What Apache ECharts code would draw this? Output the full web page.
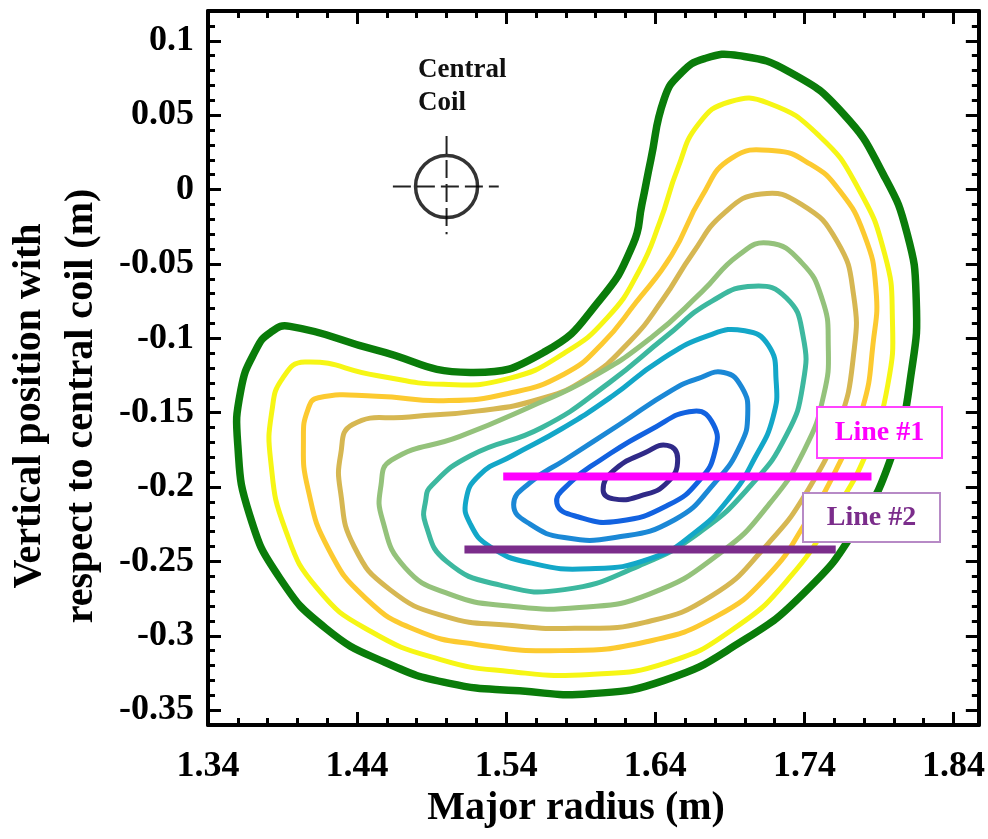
<!DOCTYPE html>
<html>
<head>
<meta charset="utf-8">
<script src="https://cdn.jsdelivr.net/npm/echarts@6/dist/echarts.min.js"></script>
<style>
  html, body { margin: 0; padding: 0; background: #fff; }
  #chart { width: 988px; height: 839px; }
</style>
</head>
<body>
<div id="chart"></div>
<script>
// Axis ranges and labelled ticks
const xMin = 1.34, xMax = 1.857;
const yMin = -0.36, yMax = 0.12;
const xTicks = [1.34, 1.44, 1.54, 1.64, 1.74, 1.84];
const yTicks = [-0.35, -0.3, -0.25, -0.2, -0.15, -0.1, -0.05, 0, 0.05, 0.1];

// Flux-surface contours, outermost first: [R (m), Z (m)]
const contour1 = [[1.395,-0.092],[1.453,-0.108],[1.516,-0.123],[1.566,-0.109],[1.603,-0.074],[1.625,-0.037],[1.631,-0.010],[1.637,0.020],[1.646,0.061],[1.657,0.078],[1.673,0.088],[1.696,0.090],[1.730,0.079],[1.766,0.051],[1.793,0.010],[1.809,-0.030],[1.815,-0.074],[1.812,-0.121],[1.800,-0.175],[1.775,-0.227],[1.740,-0.271],[1.696,-0.305],[1.646,-0.330],[1.596,-0.339],[1.549,-0.337],[1.502,-0.332],[1.459,-0.318],[1.419,-0.295],[1.388,-0.261],[1.368,-0.219],[1.360,-0.172],[1.362,-0.135],[1.372,-0.108],[1.382,-0.096]];
const contour2 = [[1.405,-0.116],[1.453,-0.125],[1.498,-0.131],[1.542,-0.127],[1.579,-0.110],[1.608,-0.086],[1.629,-0.055],[1.643,-0.022],[1.655,0.014],[1.669,0.044],[1.690,0.059],[1.716,0.058],[1.750,0.036],[1.776,0.001],[1.794,-0.044],[1.799,-0.086],[1.796,-0.131],[1.783,-0.174],[1.760,-0.217],[1.730,-0.261],[1.693,-0.295],[1.648,-0.318],[1.596,-0.326],[1.542,-0.324],[1.496,-0.316],[1.449,-0.297],[1.414,-0.269],[1.392,-0.229],[1.382,-0.182],[1.383,-0.148],[1.390,-0.127]];
const contour3 = [[1.414,-0.140],[1.453,-0.139],[1.498,-0.142],[1.542,-0.137],[1.579,-0.124],[1.604,-0.104],[1.627,-0.076],[1.651,-0.044],[1.671,-0.005],[1.691,0.021],[1.720,0.026],[1.744,0.017],[1.763,0.000],[1.780,-0.030],[1.788,-0.067],[1.786,-0.104],[1.779,-0.147],[1.763,-0.185],[1.742,-0.222],[1.716,-0.259],[1.681,-0.287],[1.634,-0.304],[1.576,-0.310],[1.521,-0.306],[1.479,-0.296],[1.446,-0.275],[1.421,-0.242],[1.407,-0.201],[1.404,-0.168],[1.407,-0.148]];
const contour4 = [[1.437,-0.158],[1.475,-0.153],[1.520,-0.149],[1.562,-0.141],[1.594,-0.127],[1.623,-0.102],[1.645,-0.074],[1.665,-0.043],[1.686,-0.016],[1.711,-0.003],[1.738,-0.010],[1.762,-0.035],[1.773,-0.071],[1.773,-0.111],[1.763,-0.158],[1.743,-0.201],[1.713,-0.241],[1.678,-0.273],[1.633,-0.291],[1.586,-0.295],[1.542,-0.293],[1.499,-0.287],[1.462,-0.269],[1.438,-0.240],[1.429,-0.204],[1.429,-0.178]];
const contour5 = [[1.463,-0.182],[1.509,-0.166],[1.554,-0.147],[1.598,-0.126],[1.638,-0.099],[1.671,-0.069],[1.696,-0.044],[1.716,-0.036],[1.738,-0.049],[1.752,-0.074],[1.756,-0.104],[1.753,-0.138],[1.740,-0.175],[1.716,-0.212],[1.684,-0.244],[1.636,-0.272],[1.589,-0.281],[1.542,-0.280],[1.502,-0.272],[1.472,-0.254],[1.457,-0.222],[1.456,-0.199]];
const contour6 = [[1.490,-0.199],[1.516,-0.179],[1.564,-0.160],[1.609,-0.130],[1.647,-0.099],[1.678,-0.075],[1.706,-0.065],[1.728,-0.073],[1.739,-0.098],[1.739,-0.131],[1.728,-0.165],[1.704,-0.199],[1.669,-0.231],[1.629,-0.253],[1.579,-0.269],[1.536,-0.266],[1.500,-0.250],[1.486,-0.225],[1.486,-0.209]];
const contour7 = [[1.513,-0.209],[1.522,-0.192],[1.544,-0.179],[1.577,-0.161],[1.611,-0.139],[1.643,-0.115],[1.676,-0.098],[1.700,-0.095],[1.716,-0.105],[1.721,-0.128],[1.719,-0.153],[1.707,-0.180],[1.690,-0.207],[1.666,-0.231],[1.637,-0.248],[1.596,-0.255],[1.556,-0.251],[1.529,-0.240],[1.516,-0.225]];
const contour8 = [[1.545,-0.212],[1.556,-0.197],[1.579,-0.182],[1.616,-0.158],[1.651,-0.135],[1.669,-0.127],[1.686,-0.123],[1.698,-0.133],[1.702,-0.151],[1.697,-0.172],[1.680,-0.197],[1.653,-0.222],[1.613,-0.234],[1.579,-0.234],[1.556,-0.225]];
const contour9 = [[1.574,-0.211],[1.583,-0.197],[1.603,-0.182],[1.636,-0.162],[1.666,-0.149],[1.679,-0.158],[1.680,-0.176],[1.670,-0.195],[1.649,-0.212],[1.615,-0.223],[1.588,-0.220]];
const contour10 = [[1.605,-0.202],[1.612,-0.189],[1.633,-0.177],[1.648,-0.172],[1.655,-0.181],[1.648,-0.197],[1.630,-0.206],[1.612,-0.208]];

const contours = [contour1, contour2, contour3, contour4, contour5, contour6, contour7, contour8, contour9, contour10];
const contourColors = ['#0a7c0a', '#f6f615', '#fcca30', '#d6b752', '#94c27b', '#3db89f', '#13a7c8', '#1b88d6', '#1262e0', '#302a88'];
const contourWidths = [7.5, 5, 5, 5, 5, 5, 5, 5, 5, 5];

// Measurement chords
const line1R = [1.538, 1.785], line1Z = -0.193;
const line2R = [1.512, 1.761], line2Z = -0.242;

// Central coil position and its cross-hair extents
const coilR = 1.50, coilZ = 0.002;
const coilCrossR = [1.464, 1.535];
const coilCrossZ = [0.036, -0.030];

const FONT = '"Liberation Serif", "Times New Roman", serif';

function majorX(position, showLabel) {
  return {
    type: 'value', position, min: xMin, max: xMax,
    axisLine: { show: true, onZero: false, lineStyle: { color: '#000', width: 4 } },
    axisTick: { show: true, inside: true, length: 13, customValues: xTicks, lineStyle: { color: '#000', width: 3 } },
    axisLabel: { show: showLabel, customValues: xTicks, margin: 24, color: '#000', fontFamily: FONT, fontWeight: 'bold', fontSize: 36 },
    splitLine: { show: false }
  };
}
function minorX(position) {
  return {
    type: 'value', position, min: xMin, max: xMax, interval: 0.02,
    axisLine: { show: false, onZero: false },
    axisTick: { show: true, inside: true, length: 7, lineStyle: { color: '#000', width: 3 } },
    axisLabel: { show: false }, splitLine: { show: false }
  };
}
function majorY(position, showLabel) {
  return {
    type: 'value', position, min: yMin, max: yMax,
    axisLine: { show: true, onZero: false, lineStyle: { color: '#000', width: 4 } },
    axisTick: { show: true, inside: true, length: 13, customValues: yTicks, lineStyle: { color: '#000', width: 3 } },
    axisLabel: { show: showLabel, customValues: yTicks, margin: 14, color: '#000', fontFamily: FONT, fontWeight: 'bold', fontSize: 36 },
    splitLine: { show: false }
  };
}
function minorY(position) {
  return {
    type: 'value', position, min: yMin, max: yMax, interval: 0.01,
    axisLine: { show: false, onZero: false },
    axisTick: { show: true, inside: true, length: 7, lineStyle: { color: '#000', width: 3 } },
    axisLabel: { show: false }, splitLine: { show: false }
  };
}

// Each contour is a closed, smoothed outline through its points
const series = contours.map((pts, i) => ({
  type: 'custom',
  coordinateSystem: 'cartesian2d',
  silent: true,
  z: 2,
  data: pts,
  encode: { x: 0, y: 1 },
  renderItem: (params, api) => {
    if (params.dataIndex !== 0) return null;
    return {
      type: 'polygon',
      shape: { points: pts.map(p => api.coord(p)), smooth: 0.5 },
      style: { fill: 'none', stroke: contourColors[i], lineWidth: contourWidths[i], lineJoin: 'round' }
    };
  }
}));

series.push(
  {
    type: 'line', silent: true, symbol: 'none', z: 4,
    data: line1R.map(r => [r, line1Z]),
    lineStyle: { color: '#ff00ff', width: 8 }
  },
  {
    type: 'line', silent: true, symbol: 'none', z: 4,
    data: line2R.map(r => [r, line2Z]),
    lineStyle: { color: '#7b2d8b', width: 8 }
  },
  {
    type: 'line', silent: true, symbol: 'none', z: 3,
    data: coilCrossR.map(r => [r, coilZ]),
    lineStyle: { color: '#222', width: 2, type: [18, 6] }
  },
  {
    type: 'line', silent: true, symbol: 'none', z: 3,
    data: coilCrossZ.map(z => [coilR, z]),
    lineStyle: { color: '#222', width: 2, type: [18, 6] }
  },
  {
    type: 'scatter', silent: true, z: 3,
    data: [[coilR, coilZ]],
    symbol: 'circle', symbolSize: 62,
    itemStyle: { color: 'rgba(0,0,0,0)', borderColor: '#000', borderWidth: 3.5 }
  }
);

const chart = echarts.init(document.getElementById('chart'), null, { renderer: 'canvas' });
chart.setOption({
  animation: false,
  backgroundColor: '#fff',
  grid: { left: 208, top: 11, width: 772, height: 714, containLabel: false },
  xAxis: [majorX('bottom', true), minorX('bottom'), majorX('top', false), minorX('top')],
  yAxis: [majorY('left', true), minorY('left'), majorY('right', false), minorY('right')],
  series,
  graphic: [
    {
      type: 'text', x: 56, y: 406, rotation: Math.PI / 2, z: 10,
      style: {
        text: 'Vertical position with\nrespect to central coil (m)',
        font: 'bold 40px ' + FONT, lineHeight: 52, fill: '#000',
        textAlign: 'center', textVerticalAlign: 'middle', align: 'center', verticalAlign: 'middle'
      }
    },
    {
      type: 'text', x: 576, y: 809, z: 10,
      style: {
        text: 'Major radius (m)', font: 'bold 40px ' + FONT, fill: '#000',
        textAlign: 'center', textVerticalAlign: 'middle', align: 'center', verticalAlign: 'middle'
      }
    },
    {
      type: 'text', x: 418, y: 54, z: 10,
      style: {
        text: 'Central\nCoil', font: 'bold 27px ' + FONT, lineHeight: 33, fill: '#111',
        textAlign: 'left', textVerticalAlign: 'top', align: 'left', verticalAlign: 'top'
      }
    },
    {
      type: 'rect', z: 10,
      shape: { x: 817, y: 407, width: 125, height: 51 },
      style: { fill: '#fff', stroke: '#ff44ff', lineWidth: 2 }
    },
    {
      type: 'text', x: 879.5, y: 433, z: 11,
      style: {
        text: 'Line #1', font: 'bold 28px ' + FONT, fill: '#ff00ff',
        textAlign: 'center', textVerticalAlign: 'middle', align: 'center', verticalAlign: 'middle'
      }
    },
    {
      type: 'rect', z: 10,
      shape: { x: 803, y: 493, width: 137, height: 49 },
      style: { fill: '#fff', stroke: '#b78ac6', lineWidth: 2 }
    },
    {
      type: 'text', x: 871.5, y: 518, z: 11,
      style: {
        text: 'Line #2', font: 'bold 28px ' + FONT, fill: '#7b2d8b',
        textAlign: 'center', textVerticalAlign: 'middle', align: 'center', verticalAlign: 'middle'
      }
    }
  ]
});
</script>
</body>
</html>
